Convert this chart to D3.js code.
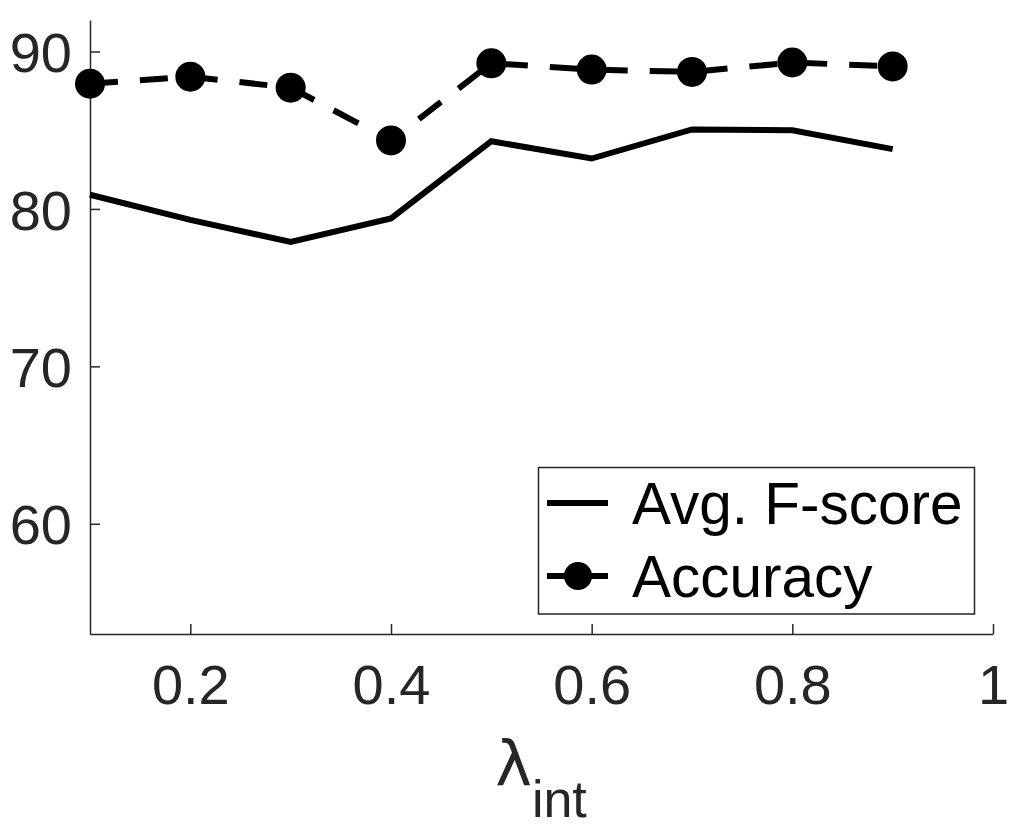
<!DOCTYPE html>
<html>
<head>
<meta charset="utf-8">
<script src="https://cdn.jsdelivr.net/npm/d3@7"></script>
<style>
  html, body { margin: 0; padding: 0; background: #fff; }
  svg { display: block; }
  text { font-family: "Liberation Sans", Arial, Helvetica, sans-serif; }
</style>
</head>
<body>
<svg id="chart" width="1030" height="830"></svg>
<script>
// ---- data ----
const lambdas = [0.1, 0.2, 0.3, 0.4, 0.5, 0.6, 0.7, 0.8, 0.9];
const fscore = [80.9, 79.3, 77.9, 79.4, 84.3, 83.2, 85.05, 85.0, 83.8];
const accuracy = [87.95, 88.4, 87.7, 84.35, 89.25, 88.85, 88.7, 89.3, 89.05];
const xTicks = [0.2, 0.4, 0.6, 0.8, 1];
const yTicks = [60, 70, 80, 90];
const seriesNames = ["Avg. F-score", "Accuracy"];

(function () {
const svg = d3.select("#chart");
const pl = 90, pr = 993, pt = 20, pb = 634;
const axisColor = "#262626";

const x = d3.scaleLinear().domain([0.1, 1]).range([pl, pr]);
const y = d3.scaleLinear().domain([53, 92]).range([pb, pt]);

// axes
const xAxis = d3.axisBottom(x).tickValues(xTicks).tickSizeInner(-10).tickSizeOuter(0)
  .tickPadding(30).tickFormat(d => d === 1 ? "1" : d3.format(".1f")(d));
const yAxis = d3.axisLeft(y).tickValues(yTicks).tickSizeInner(-10).tickSizeOuter(0)
  .tickPadding(18);

const gx = svg.append("g").attr("transform", `translate(0,${pb})`).call(xAxis);
const gy = svg.append("g").attr("transform", `translate(${pl},0)`).call(yAxis);
[gx, gy].forEach(g => {
  g.select(".domain").attr("stroke", axisColor).attr("stroke-width", 1.5);
  g.selectAll(".tick line").attr("stroke", axisColor).attr("stroke-width", 1.5);
  g.selectAll(".tick text").attr("fill", axisColor)
    .style("font-size", "56px").style("font-family", '"Liberation Sans", Arial, sans-serif');
});
gx.selectAll(".tick text").attr("dy", "0.71em");
gy.selectAll(".tick text").attr("dy", "0.36em");

// x label
const xl = svg.append("text").attr("x", 541).attr("y", 785).attr("text-anchor", "middle")
  .attr("fill", axisColor);
xl.append("tspan").text("λ").style("font-size", "62px")
  .style("font-family", '"DejaVu Sans", sans-serif');
xl.append("tspan").text("int").attr("dy", 32).style("font-size", "52px");

// lines
const line = d3.line().x((d, i) => x(lambdas[i])).y(d => y(d));
svg.append("path").datum(fscore).attr("d", line)
  .attr("fill", "none").attr("stroke", "#000").attr("stroke-width", 6).attr("stroke-linejoin", "miter");
svg.append("path").datum(accuracy).attr("d", line)
  .attr("fill", "none").attr("stroke", "#000").attr("stroke-width", 6)
  .attr("stroke-dasharray", "28,22");
svg.append("g").selectAll("circle").data(accuracy).join("circle")
  .attr("cx", (d, i) => x(lambdas[i])).attr("cy", d => y(d)).attr("r", 15).attr("fill", "#000");

// legend
const lg = svg.append("g");
lg.append("rect").attr("x", 538.5).attr("y", 467.5).attr("width", 436).attr("height", 146.5)
  .attr("fill", "#fff").attr("stroke", axisColor).attr("stroke-width", 1.5);
const rows = [503, 576];
lg.append("line").attr("x1", 547).attr("x2", 608).attr("y1", rows[0]).attr("y2", rows[0])
  .attr("stroke", "#000").attr("stroke-width", 6);
lg.append("line").attr("x1", 547).attr("x2", 608).attr("y1", rows[1]).attr("y2", rows[1])
  .attr("stroke", "#000").attr("stroke-width", 6);
lg.append("circle").attr("cx", 578).attr("cy", rows[1]).attr("r", 14).attr("fill", "#000");
seriesNames.forEach((n, i) => {
  lg.append("text").attr("x", 632).attr("y", rows[i]).attr("dy", "0.36em")
    .attr("fill", "#000").style("font-size", "58.5px").text(n);
});
})();
</script>
</body>
</html>
